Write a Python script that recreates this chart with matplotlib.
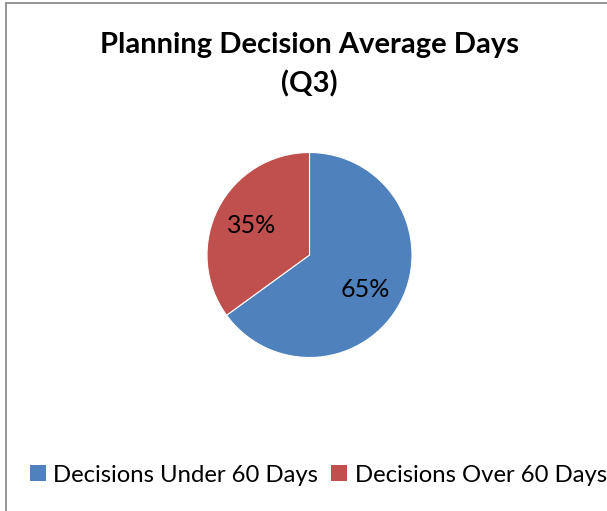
import matplotlib
matplotlib.use('Agg')
import matplotlib.pyplot as plt
from matplotlib.patches import Rectangle, Patch

plt.rcParams['font.family'] = ['Lato', 'DejaVu Sans']

labels = ['Decisions Under 60 Days', 'Decisions Over 60 Days']
shares = [65, 35]
colors = ['#4F81BD', '#C0504D']

W, H = 607, 511
fig = plt.figure(figsize=(W / 100, H / 100), dpi=100)
fig.patch.set_facecolor('white')

# chart frame (left and top edges visible)
fig.add_artist(Rectangle((6 / W, -0.2), 1.2, (H - 3) / H + 0.2,
                         transform=fig.transFigure, fill=False,
                         edgecolor='#8c8c8c', linewidth=1.3))

fig.text(309 / W, 1 - 65 / H, 'Planning Decision Average Days\n(Q3)',
         ha='center', va='center', fontsize=21, fontweight='bold',
         linespacing=1.55)

cx, cy, r = 309.5, 255, 102.5
ax = fig.add_axes([(cx - r) / W, (H - cy - r) / H, 2 * r / W, 2 * r / H])
wedges, _, autotexts = ax.pie(shares, colors=colors, startangle=90,
                              counterclock=False, autopct='%d%%',
                              pctdistance=0.63,
                              wedgeprops=dict(edgecolor='white', linewidth=0.8),
                              textprops=dict(fontsize=18, color='black'))
# nudge the big slice's label a little lower
autotexts[0].set_position((0.54, -0.34))
ax.set_xlim(-1, 1)
ax.set_ylim(-1, 1)
ax.set_aspect('equal')
ax.axis('off')

handles = [Patch(facecolor=c, edgecolor='none') for c in colors]
fig.legend(handles, labels, loc='center left', ncol=2,
           bbox_to_anchor=(30 / W, 1 - 475 / H), frameon=False,
           fontsize=17.2, handlelength=0.65, handleheight=0.65,
           handletextpad=0.33, columnspacing=0.54, borderaxespad=0,
           borderpad=0)

plt.savefig('out.png', dpi=100, facecolor='white')
